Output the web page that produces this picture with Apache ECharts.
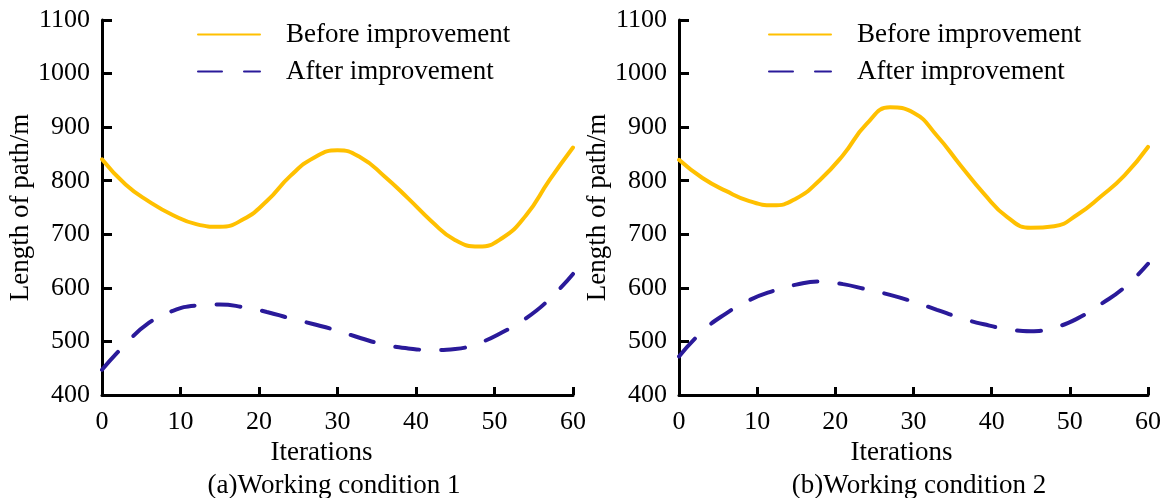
<!DOCTYPE html>
<html>
<head>
<meta charset="utf-8">
<script src="https://cdn.jsdelivr.net/npm/echarts@6/dist/echarts.min.js"></script>
<style>
  html, body { margin: 0; padding: 0; background: #fff; }
  #chart { width: 1173px; height: 498px; }
</style>
</head>
<body>
<div id="chart"></div>
<script>
// Path length per iteration, two working conditions
const iterations = [0, 3, 6, 9, 12, 15, 18, 21, 24, 27, 30, 33, 36, 39, 42, 45, 48, 51, 54, 57, 60];
const xTicks = [0, 10, 20, 30, 40, 50, 60];
const yTicks = [400, 500, 600, 700, 800, 900, 1000, 1100];
const seriesNames = ['Before improvement', 'After improvement'];
const captions = ['(a)Working condition 1', '(b)Working condition 2'];

// length of path in m at each iteration above
const beforeCond1 = [840, 793, 761, 736, 719, 714, 728, 762, 809, 843, 857, 843, 808, 767, 724, 689, 677, 693, 735, 801, 862];
const afterCond1  = [447, 495, 535, 557, 567, 569, 564, 555, 543, 532, 520, 506, 494, 487, 484, 486, 497, 517, 543, 579, 626];
const beforeCond2 = [839, 805, 781, 762, 754, 767, 801, 848, 906, 937, 927, 884, 829, 776, 732, 712, 715, 737, 771, 810, 863];
const afterCond2  = [472, 519, 552, 577, 594, 606, 612, 607, 597, 587, 574, 559, 544, 532, 523, 519, 526, 543, 570, 601, 645];

const FONT = "'Liberation Serif', 'Times New Roman', serif";
const ORANGE = '#FFC000';
const BLUE = '#2A1A9A';

const grids = [
  { left: 102, right: 600, top: 20, bottom: 103 },
  { left: 679, right: 25, top: 20, bottom: 103 }
];

function xAxisFor(i, shift) {
  return {
    type: 'value', gridIndex: i, min: xTicks[0], max: xTicks[xTicks.length - 1], interval: 10,
    name: 'Iterations', nameLocation: 'middle', nameGap: 39,
    nameTextStyle: { fontFamily: FONT, fontSize: 27, color: '#000', padding: [0, shift, 0, 0] },
    axisLine: { lineStyle: { color: '#000', width: 3 } },
    axisTick: { inside: true, length: 8, lineStyle: { color: '#000', width: 3 } },
    axisLabel: { fontFamily: FONT, fontSize: 26, color: '#000', margin: 14 },
    splitLine: { show: false }
  };
}
function yAxisFor(i) {
  return {
    type: 'value', gridIndex: i, min: yTicks[0], max: yTicks[yTicks.length - 1], interval: 100,
    name: 'Length of path/m', nameLocation: 'middle', nameGap: 52,
    nameTextStyle: { fontFamily: FONT, fontSize: 27, color: '#000' },
    axisLine: { show: true, lineStyle: { color: '#000', width: 3 } },
    axisTick: { show: true, inside: true, length: 10, lineStyle: { color: '#000', width: 3 } },
    axisLabel: { fontFamily: FONT, fontSize: 26, color: '#000', margin: 12, formatter: v => String(v) },
    splitLine: { show: false }
  };
}
function lineSeries(name, values, i, color, dashed) {
  return {
    name: name, type: 'line', xAxisIndex: i, yAxisIndex: i,
    data: iterations.map((it, k) => [it, values[k]]),
    smooth: 0.5, symbol: 'none', showSymbol: false, z: dashed ? 3 : 2,
    lineStyle: { color: color, width: 4, type: dashed ? [24, 22] : 'solid', cap: 'round' },
    itemStyle: { color: color }
  };
}
function legendFor(left) {
  return {
    left: left, top: 16, orient: 'vertical', itemGap: 10,
    itemWidth: 62, itemHeight: 14,
    itemStyle: { opacity: 0 },
    data: seriesNames,
    textStyle: { fontFamily: FONT, fontSize: 27, color: '#000', padding: [0, 0, 0, 21] }
  };
}

const chart = echarts.init(document.getElementById('chart'), null, { renderer: 'canvas' });
chart.setOption({
  backgroundColor: '#fff',
  animation: false,
  title: [
    { text: captions[0], left: 329, top: 467, textAlign: 'center',
      textStyle: { fontFamily: FONT, fontSize: 27, fontWeight: 'normal', color: '#000' } },
    { text: captions[1], left: 914, top: 467, textAlign: 'center',
      textStyle: { fontFamily: FONT, fontSize: 27, fontWeight: 'normal', color: '#000' } }
  ],
  legend: [legendFor(192), legendFor(763)],
  grid: grids,
  xAxis: [xAxisFor(0, 32), xAxisFor(1, 24)],
  yAxis: [yAxisFor(0), yAxisFor(1)],
  series: [
    lineSeries(seriesNames[0], beforeCond1, 0, ORANGE, false),
    lineSeries(seriesNames[1], afterCond1, 0, BLUE, true),
    lineSeries(seriesNames[0], beforeCond2, 1, ORANGE, false),
    lineSeries(seriesNames[1], afterCond2, 1, BLUE, true)
  ]
});
</script>
</body>
</html>
